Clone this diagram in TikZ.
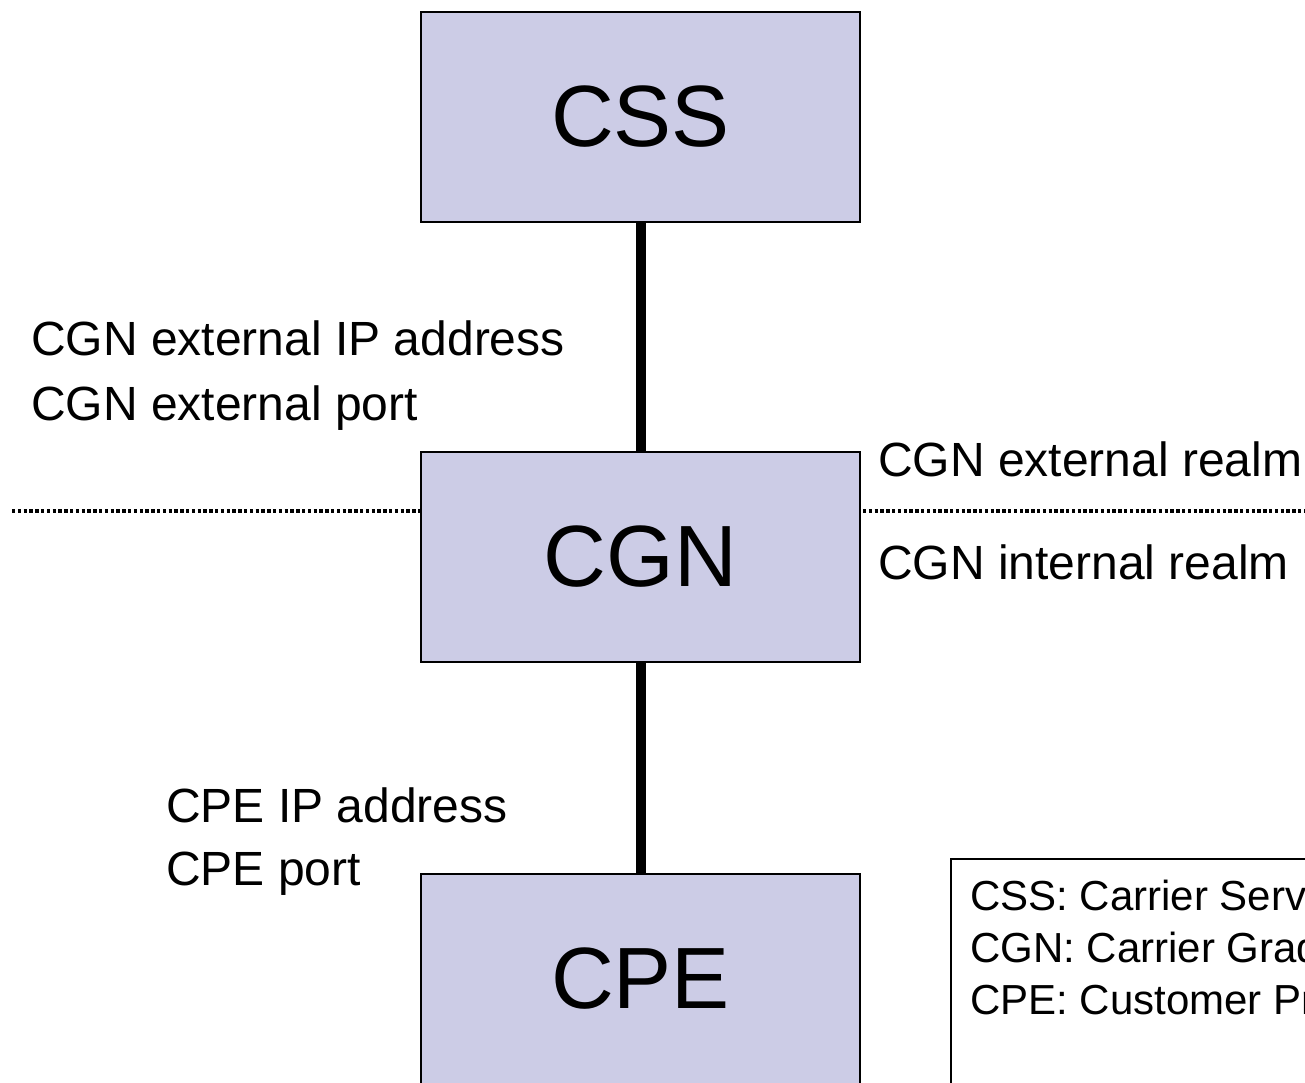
\documentclass[tikz,border=0pt]{standalone}
\usepackage{fontspec}
\setmainfont{Liberation Sans}
\definecolor{boxfill}{RGB}{204,204,230}
\begin{document}
\begin{tikzpicture}[x=1pt,y=-1pt,
  netbox/.style={draw=black, line width=2pt, fill=boxfill, minimum width=439pt, minimum height=210pt, inner sep=0pt, font=\fontsize{87}{100}\selectfont},
  lbl/.style={anchor=base west, inner sep=0pt, font=\fontsize{48}{56}\selectfont},
  leg/.style={anchor=base west, inner sep=0pt, font=\fontsize{42}{50}\selectfont},
  link/.style={line width=10pt},
  realm/.style={line width=3.5pt, dash pattern=on 3.3pt off 2.5pt}]
\useasboundingbox (0,0) rectangle (1305,1083);
\clip (0,0) rectangle (1305,1083);
\node[netbox] (css) at (640.5,117) {CSS};
\node[netbox] (cgn) at (640.5,556.5) {CGN};
\node[netbox] (cpe) at (640.5,979) {CPE};
\draw[link] (css.south) -- (cgn.north);
\draw[link] (cgn.south) -- (cpe.north);
\coordinate (rl) at (12,511);
\coordinate (rr) at (1310,511);
\draw[realm] (rl) -- (rl -| cgn.west);
\draw[realm] ([xshift=2pt]rr -| cgn.east) -- (rr);
\node[lbl] (l1) at (31,355) {CGN external IP address};
\node[lbl] (l2) at (31,420) {CGN external port};
\node[lbl] (r1) at (878,476) {CGN external realm};
\node[lbl] (r2) at (878,579) {CGN internal realm};
\node[lbl] (p1) at (166,822) {CPE IP address};
\node[lbl] (p2) at (166,885) {CPE port};
\node[draw=black, line width=2pt, anchor=north west, minimum width=420pt, minimum height=260pt, inner sep=0pt] (legend) at (950,858) {};
\node[leg] (g1) at (970,910) {CSS: Carrier Service};
\node[leg] (g2) at (970,962) {CGN: Carrier Grade NAT};
\node[leg] (g3) at (970,1014) {CPE: Customer Premises Equipment};
\end{tikzpicture}
\end{document}
